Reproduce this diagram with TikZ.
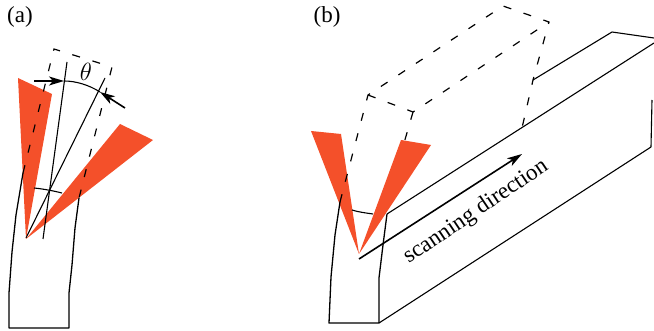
\documentclass[tikz,border=0pt]{standalone}
\usepackage{fontspec}
\setmainfont{Liberation Serif}
\usetikzlibrary{arrows.meta}
\definecolor{beamred}{HTML}{F4502A}
\tikzset{
  beam/.style={fill=beamred,draw=none},
  body/.style={draw=black,line width=1.3pt,line join=round},
  thin body/.style={draw=black,line width=1.1pt,line join=round},
  ghost/.style={draw=black,line width=1.2pt,dash pattern=on 8pt off 13pt},
  label/.style={inner sep=0pt,font=\fontsize{23}{23}\selectfont,text=black},
  arrowline/.style={draw=black,line width=1.6pt,-{Stealth[length=15pt,width=9pt,inset=4pt]}}
}
\begin{document}
\begin{tikzpicture}[x=1pt,y=-1pt]
\useasboundingbox (0,0) rectangle (654,331);
% ---------- panel (a)
\fill[beam] (26,239) -- (18,78) -- (52,94) -- cycle;
\fill[beam] (26,239) -- (120,124) -- (153,140) -- cycle;
\draw[body] (23,173) -- (16,215) -- (12,252) -- (9,293) -- (9,328) -- (69,328) -- (69,293) -- (72,265) -- (75,228) -- (79,198);
\draw[thin body] (34,188) .. controls (44,189) and (54,191) .. (62,193);
\draw[thin body] (43,239) -- (67,62);
\draw[thin body] (26,238) -- (105,78);
\draw[ghost] (23,173) -- (54,49) -- (112,67) -- (79,198);
\draw[thin body] (64,81) .. controls (76,81) and (89,85) .. (100,92);
\draw[arrowline] (34,81) -- (64,81);
\draw[arrowline] (125,108) -- (100,92);
\node[label] (tha) at (86,72) {$\theta$};
\node[label] (a) at (20,17) {(a)};
% ---------- panel (b)
\fill[beam] (359,254) -- (311,131) -- (341,134) -- cycle;
\fill[beam] (359,254) -- (401,140) -- (431,145) -- cycle;
\draw[body] (340,202) -- (335,235) -- (331,277) -- (329,323) -- (379,323) -- (379,278) -- (383,245) -- (387,214);
\draw[thin body] (352,210) .. controls (358,212) and (366,213) .. (373,214);
\draw[ghost] (340,202) -- (368,95) -- (503,6) -- (549,22) -- (533,80) -- (522,128);
\draw[ghost] (368,95) -- (413,112) -- (549,22);
\draw[ghost] (413,112) -- (402,150);
\draw[thin body] (387,214) -- (654,43);
\draw[thin body] (533,80) -- (612,32) -- (654,38);
\draw[thin body] (379,323) -- (651,147) -- (652,100);
\draw[arrowline] (359,259) -- (522,154);
\node[label,rotate=34] (scan) at (476,212) {scanning direction};
\node[label] (b) at (327,17) {(b)};
\end{tikzpicture}
\end{document}
